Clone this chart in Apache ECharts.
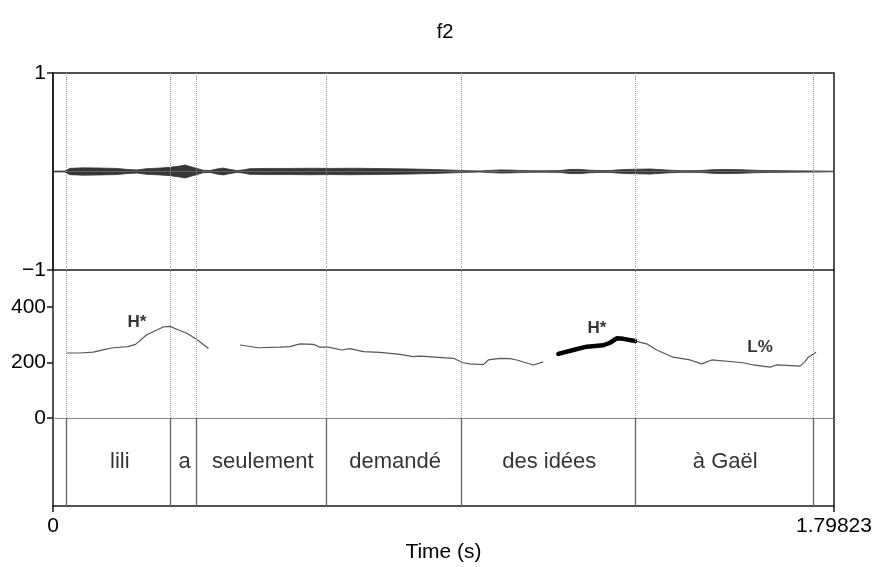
<!DOCTYPE html>
<html><head><meta charset="utf-8">
<script src="https://cdn.jsdelivr.net/npm/echarts@6/dist/echarts.min.js"></script>
<style>html,body{margin:0;padding:0;background:#fff}#c{width:875px;height:567px}</style>
</head><body><div id="c"></div>
<script>
const TITLE = 'f2';
const T_END = 1.79823;
const X_NAME = 'Time (s)';

// waveform amplitude envelope (half-height)
const waveTimes = [0, 0.0276, 0.0391, 0.0691, 0.1082, 0.1474, 0.1704, 0.1934, 0.2164, 0.2464, 0.2694, 0.2924, 0.3039, 0.3155, 0.3316, 0.3454, 0.3615, 0.3776, 0.3914, 0.4076, 0.4237, 0.4375, 0.4536, 0.4927, 0.5457, 0.5918, 0.6378, 0.6839, 0.7299, 0.776, 0.822, 0.8681, 0.9072, 0.9371, 0.9602, 0.9832, 1.0062, 1.0293, 1.0523, 1.0753, 1.0983, 1.1329, 1.1674, 1.1904, 1.2135, 1.2365, 1.2595, 1.2825, 1.2986, 1.3217, 1.3516, 1.3746, 1.3907, 1.4207, 1.4506, 1.4897, 1.5197, 1.5473, 1.5818, 1.6118, 1.6509, 1.697, 1.743, 1.79823];
const waveEnv = [0.004, 0.005, 0.032, 0.037, 0.035, 0.031, 0.021, 0.016, 0.029, 0.035, 0.042, 0.056, 0.066, 0.051, 0.031, 0.013, 0.009, 0.026, 0.035, 0.021, 0.009, 0.016, 0.029, 0.031, 0.031, 0.033, 0.031, 0.033, 0.031, 0.029, 0.026, 0.021, 0.016, 0.011, 0.007, 0.006, 0.011, 0.016, 0.014, 0.011, 0.008, 0.007, 0.009, 0.021, 0.021, 0.013, 0.009, 0.009, 0.016, 0.021, 0.024, 0.026, 0.021, 0.013, 0.008, 0.009, 0.019, 0.021, 0.019, 0.013, 0.009, 0.007, 0.006, 0.003];

// pitch track (Hz)
const pitch1Times = [0.032, 0.062, 0.093, 0.12, 0.139, 0.173, 0.19, 0.216, 0.235, 0.254, 0.269, 0.288, 0.308, 0.332, 0.358];
const pitch1Hz = [234, 234, 237, 247, 253, 257, 265, 300, 314, 328, 330, 318, 305, 282, 250];
const pitch2Times = [0.4306, 0.4727, 0.5227, 0.5457, 0.5687, 0.5994, 0.6148, 0.6339, 0.6647, 0.6839, 0.7145, 0.7529, 0.799, 0.8296, 0.845, 0.9217, 0.9447, 0.9601, 0.9908, 1.0023, 1.0292, 1.0522, 1.0677, 1.1059, 1.1289];
const pitch2Hz = [263, 253, 255, 257, 267, 265, 255, 255, 245, 250, 239, 236, 229, 221, 223, 215, 199, 195, 192, 209, 215, 214, 209, 191, 202];
const pitch3Times = [1.1635, 1.198, 1.2289, 1.2671, 1.2825, 1.298, 1.3132, 1.34, 1.367, 1.39, 1.428, 1.4667, 1.4937, 1.5167, 1.5894, 1.6125, 1.6509, 1.6663, 1.72, 1.7315, 1.739, 1.757];
const pitch3Hz = [231, 245, 257, 262, 271, 287, 285, 277, 267, 245, 219, 209, 195, 209, 199, 191, 183, 191, 187, 203, 219, 237];
// emphasised (thick) stretch
const accentTimes = [1.1635, 1.198, 1.2289, 1.2671, 1.2825, 1.298, 1.3132, 1.34];
const accentHz = [231, 245, 257, 262, 271, 287, 285, 277];

// tone labels
const toneTimes = [0.193, 1.2526, 1.628];
const toneHz = [346, 324, 256];
const toneLabels = ['H*', 'H*', 'L%'];

// text grid
const boundaries = [0.0345, 0.2733, 0.3332, 0.6332, 0.9424, 1.3428, 1.7529];
const intervalLabels = ['', 'lili', 'a', 'seulement', 'demandé', 'des idées', 'à Gaël', ''];

const waveTicks = [-1, 1];
const pitchTicks = [0, 200, 400];
const PITCH_MAX = 533;
const timeTicks = [0, T_END];

const zip = (a, b) => a.map((v, i) => [v, b[i]]);
const FONT = '"Liberation Sans", Arial, Helvetica, sans-serif';

const edges = [0].concat(boundaries, [T_END]);
const intervalData = [];
for (let i = 0; i < edges.length - 1; i++) {
  if (intervalLabels[i]) intervalData.push({ value: [(edges[i] + edges[i + 1]) / 2, 0.5], name: intervalLabels[i] });
}

const dottedLines = {
  silent: true, symbol: ['none', 'none'], label: { show: false },
  lineStyle: { type: 'dotted', color: '#9a9a9a', width: 1 },
  emphasis: { disabled: true },
  data: boundaries.map(t => ({ xAxis: t }))
};

const G = { left: 53, right: 41 };
const chart = echarts.init(document.getElementById('c'));
chart.setOption({
  animation: false,
  textStyle: { fontFamily: FONT },
  title: { text: TITLE, left: 440, textAlign: 'center', top: 17, textStyle: { fontSize: 20, fontWeight: 'normal', color: '#000', fontFamily: FONT } },
  grid: [
    Object.assign({ top: 73, height: 197, show: true, borderColor: '#1a1a1a', borderWidth: 1.5 }, G),
    Object.assign({ top: 270, height: 148 }, G),
    Object.assign({ top: 418, height: 88 }, G)
  ],
  xAxis: [
    { type: 'value', gridIndex: 0, min: 0, max: T_END, show: false },
    { type: 'value', gridIndex: 1, min: 0, max: T_END, axisLine: { show: true, onZero: false, lineStyle: { color: '#888', width: 1 } }, axisTick: { show: false }, axisLabel: { show: false }, splitLine: { show: false } },
    { type: 'value', gridIndex: 2, min: 0, max: T_END,
      axisLine: { show: true, lineStyle: { color: '#1a1a1a', width: 1.5 } },
      axisTick: { show: true, customValues: timeTicks, length: 6, lineStyle: { color: '#1a1a1a', width: 1.5 } },
      axisLabel: { show: true, customValues: timeTicks, margin: 10, fontSize: 21, color: '#000', fontFamily: FONT, formatter: v => String(v) },
      splitLine: { show: false },
      name: X_NAME, nameLocation: 'middle', nameGap: 36, nameTextStyle: { fontSize: 21, color: '#000', fontFamily: FONT } }
  ],
  yAxis: [
    { type: 'value', gridIndex: 0, min: -1, max: 1,
      axisLine: { show: true, lineStyle: { color: '#1a1a1a', width: 1.5 } },
      axisTick: { show: true, customValues: waveTicks, length: 6, lineStyle: { color: '#1a1a1a', width: 1.5 } },
      axisLabel: { show: true, customValues: waveTicks, margin: 7, fontSize: 21, color: '#000', fontFamily: FONT, formatter: v => v < 0 ? '\u2212' + Math.abs(v) : String(v) },
      splitLine: { show: false } },
    { type: 'value', gridIndex: 1, min: 0, max: PITCH_MAX,
      axisLine: { show: true, lineStyle: { color: '#1a1a1a', width: 1.5 } },
      axisTick: { show: true, customValues: pitchTicks, length: 6, lineStyle: { color: '#1a1a1a', width: 1.5 } },
      axisLabel: { show: true, customValues: pitchTicks, margin: 7, fontSize: 21, color: '#000', fontFamily: FONT },
      splitLine: { show: false } },
    { type: 'value', gridIndex: 1, position: 'right', min: 0, max: 1,
      axisLine: { show: true, lineStyle: { color: '#1a1a1a', width: 1.5 } }, axisTick: { show: false }, axisLabel: { show: false }, splitLine: { show: false } },
    { type: 'value', gridIndex: 2, min: 0, max: 1,
      axisLine: { show: true, lineStyle: { color: '#1a1a1a', width: 1.5 } }, axisTick: { show: false }, axisLabel: { show: false }, splitLine: { show: false } },
    { type: 'value', gridIndex: 2, position: 'right', min: 0, max: 1,
      axisLine: { show: true, lineStyle: { color: '#1a1a1a', width: 1.5 } }, axisTick: { show: false }, axisLabel: { show: false }, splitLine: { show: false } }
  ],
  series: [
    { type: 'line', xAxisIndex: 0, yAxisIndex: 0, data: zip(waveTimes, waveEnv), showSymbol: false, silent: true,
      lineStyle: { color: '#333', width: 0.8 }, areaStyle: { color: '#262626', opacity: 0.92 }, markLine: dottedLines, z: 3 },
    { type: 'line', xAxisIndex: 0, yAxisIndex: 0, data: zip(waveTimes, waveEnv.map(v => -v)), showSymbol: false, silent: true,
      lineStyle: { color: '#333', width: 0.8 }, areaStyle: { color: '#262626', opacity: 0.92 }, z: 3 },
    { type: 'line', xAxisIndex: 1, yAxisIndex: 1, data: zip(pitch1Times, pitch1Hz), showSymbol: false, silent: true,
      lineStyle: { color: '#555', width: 1.2 }, markLine: dottedLines, z: 3 },
    { type: 'line', xAxisIndex: 1, yAxisIndex: 1, data: zip(pitch2Times, pitch2Hz), showSymbol: false, silent: true,
      lineStyle: { color: '#555', width: 1.2 }, z: 3 },
    { type: 'line', xAxisIndex: 1, yAxisIndex: 1, data: zip(pitch3Times, pitch3Hz), showSymbol: false, silent: true,
      lineStyle: { color: '#555', width: 1.2 }, z: 3 },
    { type: 'line', xAxisIndex: 1, yAxisIndex: 1, data: zip(accentTimes, accentHz), showSymbol: false, silent: true,
      lineStyle: { color: '#000', width: 4.5, cap: 'round', join: 'round' }, z: 4 },
    { type: 'scatter', xAxisIndex: 1, yAxisIndex: 1, symbolSize: 0, itemStyle: { color: '#000' }, silent: true,
      data: toneTimes.map((t, i) => ({ value: [t, toneHz[i]], name: toneLabels[i] })),
      label: { show: true, position: 'inside', formatter: '{b}', fontSize: 17, fontWeight: 'bold', color: '#000', textBorderWidth: 0, fontFamily: FONT }, z: 5 },
    { type: 'scatter', xAxisIndex: 2, yAxisIndex: 3, symbolSize: 0, itemStyle: { color: '#000' }, silent: true,
      data: intervalData,
      label: { show: true, position: 'inside', formatter: '{b}', fontSize: 22, color: '#000', textBorderWidth: 0, fontFamily: FONT },
      markLine: { silent: true, symbol: ['none', 'none'], label: { show: false }, lineStyle: { type: 'solid', color: '#666', width: 1.3 }, data: boundaries.map(t => ({ xAxis: t })) }, z: 5 }
  ]
});
</script></body></html>
